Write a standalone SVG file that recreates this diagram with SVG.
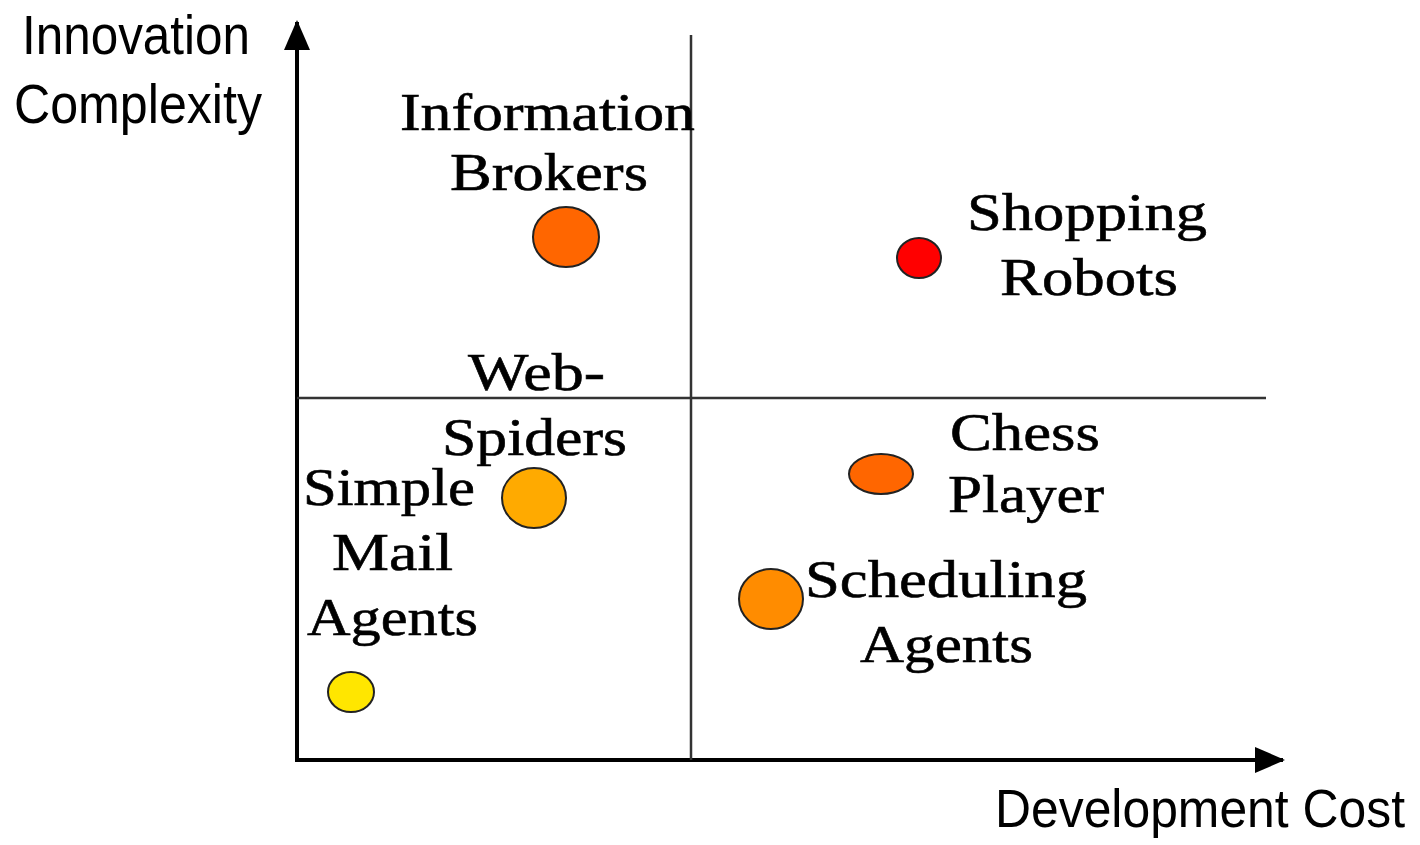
<svg xmlns="http://www.w3.org/2000/svg" width="1420" height="845" viewBox="0 0 1420 845">
<style>
.sans{font-family:"Liberation Sans",Arial,sans-serif;font-size:55px;fill:#000}
.serif{font-family:"Liberation Serif","Times New Roman",serif;font-size:53px;fill:#000;stroke:#000;stroke-width:0.6}
.dot{stroke:#222;stroke-width:2}
</style>
<defs>
<marker id="ah" viewBox="0 0 30 26" refX="28" refY="13" markerWidth="30" markerHeight="26" markerUnits="userSpaceOnUse" orient="auto">
<path d="M0,0 L30,13 L0,26 Z" fill="#000"/>
</marker>
</defs>
<rect width="1420" height="845" fill="#fff"/>
<g id="connectors">
<line x1="297" y1="762" x2="297" y2="22" stroke="#000" stroke-width="4" marker-end="url(#ah)"/>
<line x1="295" y1="760" x2="1283" y2="760" stroke="#000" stroke-width="4" marker-end="url(#ah)"/>
<line x1="297" y1="398" x2="1266" y2="398" stroke="#333" stroke-width="2.5"/>
<line x1="691" y1="35" x2="691" y2="760" stroke="#333" stroke-width="2.5"/>
</g>
<g id="axis-labels">
<text class="sans" x="22" y="54" textLength="228" lengthAdjust="spacingAndGlyphs">Innovation</text>
<text class="sans" x="14" y="123" textLength="248" lengthAdjust="spacingAndGlyphs">Complexity</text>
<text class="sans" transform="translate(995,827) scale(1,1.1)" x="0" y="0" style="font-size:49px" textLength="410" lengthAdjust="spacingAndGlyphs">Development Cost</text>
</g>
<g id="information-brokers">
<ellipse class="dot" cx="566" cy="237" rx="33" ry="30" fill="#FF6600"/>
<text class="serif" x="400" y="130" textLength="295" lengthAdjust="spacingAndGlyphs">Information</text>
<text class="serif" x="450" y="190" textLength="198" lengthAdjust="spacingAndGlyphs">Brokers</text>
</g>
<g id="shopping-robots">
<ellipse class="dot" cx="919" cy="258" rx="22" ry="20" fill="#FF0000"/>
<text class="serif" x="967" y="230" textLength="240" lengthAdjust="spacingAndGlyphs">Shopping</text>
<text class="serif" x="1000" y="295" textLength="178" lengthAdjust="spacingAndGlyphs">Robots</text>
</g>
<g id="web-spiders">
<ellipse class="dot" cx="534" cy="498" rx="32" ry="30" fill="#FFAA00"/>
<text class="serif" x="468" y="390" textLength="137" lengthAdjust="spacingAndGlyphs">Web-</text>
<text class="serif" x="442" y="455" textLength="185" lengthAdjust="spacingAndGlyphs">Spiders</text>
</g>
<g id="simple-mail-agents">
<ellipse class="dot" cx="351" cy="692" rx="23" ry="20" fill="#FFE600"/>
<text class="serif" x="303" y="505" textLength="172" lengthAdjust="spacingAndGlyphs">Simple</text>
<text class="serif" x="332" y="570" textLength="121" lengthAdjust="spacingAndGlyphs">Mail</text>
<text class="serif" x="307" y="635" textLength="171" lengthAdjust="spacingAndGlyphs">Agents</text>
</g>
<g id="chess-player">
<ellipse class="dot" cx="881" cy="474" rx="32" ry="20" fill="#FF6600"/>
<text class="serif" x="950" y="450" textLength="150" lengthAdjust="spacingAndGlyphs">Chess</text>
<text class="serif" x="948" y="512" textLength="156" lengthAdjust="spacingAndGlyphs">Player</text>
</g>
<g id="scheduling-agents">
<ellipse class="dot" cx="771" cy="599" rx="32" ry="30" fill="#FF8C00"/>
<text class="serif" x="805" y="597" textLength="282" lengthAdjust="spacingAndGlyphs">Scheduling</text>
<text class="serif" x="860" y="662" textLength="173" lengthAdjust="spacingAndGlyphs">Agents</text>
</g>
</svg>
